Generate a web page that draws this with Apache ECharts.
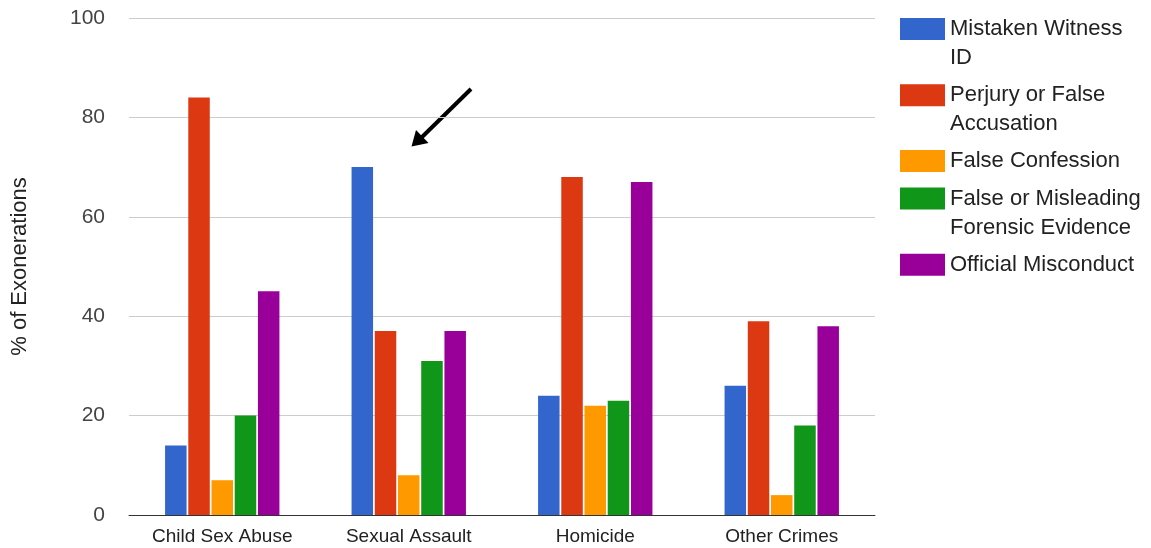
<!DOCTYPE html>
<html>
<head>
<meta charset="utf-8">
<script src="https://cdn.jsdelivr.net/npm/echarts@6/dist/echarts.min.js"></script>
<style>
html,body{margin:0;padding:0;background:#fff;}
#chart{width:1151px;height:548px;}
</style>
</head>
<body>
<div id="chart"></div>
<script>
const categories = ['Child Sex Abuse', 'Sexual Assault', 'Homicide', 'Other Crimes'];
const seriesNames = ['Mistaken Witness\nID', 'Perjury or False\nAccusation', 'False Confession', 'False or Misleading\nForensic Evidence', 'Official Misconduct'];
const mistakenWitnessID = [14, 70, 24, 26];
const perjuryFalseAccusation = [84, 37, 68, 39];
const falseConfession = [7, 8, 22, 4];
const forensicEvidence = [20, 31, 23, 18];
const officialMisconduct = [45, 37, 67, 38];
const yTickLabels = [0, 20, 40, 60, 80, 100];

const seriesValues = [mistakenWitnessID, perjuryFalseAccusation, falseConfession, forensicEvidence, officialMisconduct];
const colors = ['#3366cc', '#dc3912', '#ff9900', '#109618', '#990099'];
const FONT = '"Liberation Sans", Arial, sans-serif';

const chart = echarts.init(document.getElementById('chart'), null, {renderer: 'canvas'});

const iconCenters = [29, 95.3, 161, 198.5, 264.7];
const LH = 29;
const legends = seriesNames.map((n, i) => {
  const multi = n.indexOf('\n') >= 0;
  return {
    orient: 'vertical',
    left: 900,
    top: multi ? iconCenters[i] - 1.5 * LH : iconCenters[i] - 0.5 * LH,
    padding: 0,
    itemWidth: 45,
    itemHeight: 22,
    icon: 'rect',
    selectedMode: false,
    textStyle: {fontSize: 22, color: '#222', fontFamily: FONT, lineHeight: LH},
    formatter: function (name) { return name.indexOf('\n') >= 0 ? ' \n' + name : name; },
    data: [n]
  };
});

const option = {
  animation: false,
  color: colors,
  textStyle: {fontFamily: FONT},
  legend: legends,
  grid: {left: 129, right: 276, top: 18, bottom: 33, containLabel: false},
  xAxis: {
    type: 'category',
    data: categories,
    axisLine: {lineStyle: {color: '#333', width: 1}},
    axisTick: {show: false},
    axisLabel: {fontSize: 19, color: '#222', margin: 12, fontFamily: FONT}
  },
  yAxis: {
    type: 'value',
    min: yTickLabels[0],
    max: yTickLabels[yTickLabels.length - 1],
    interval: 20,
    name: '% of Exonerations',
    nameLocation: 'middle',
    nameRotate: 90,
    nameGap: 98,
    nameTextStyle: {fontSize: 22, color: '#222', fontFamily: FONT},
    axisLine: {show: false},
    axisTick: {show: false},
    axisLabel: {fontSize: 21, color: '#444', margin: 24, fontFamily: FONT},
    splitLine: {lineStyle: {color: '#cccccc', width: 1}}
  },
  series: seriesNames.map((n, i) => ({
    name: n,
    type: 'bar',
    data: seriesValues[i],
    barWidth: 21.5,
    barGap: '8%',
    itemStyle: {color: colors[i]}
  })),
  graphic: [
    {
      type: 'line',
      shape: {x1: 471, y1: 89, x2: 420, y2: 139},
      style: {stroke: '#000', lineWidth: 4}
    },
    {
      type: 'polygon',
      shape: {points: [[411.5, 146.5], [416, 130], [428.5, 143]]},
      style: {fill: '#000'}
    }
  ]
};
chart.setOption(option);
</script>
</body>
</html>
